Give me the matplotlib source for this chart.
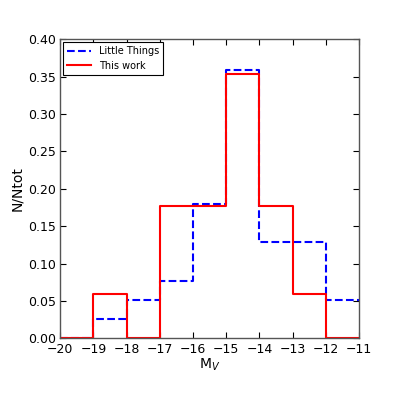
import numpy as np
import matplotlib
matplotlib.use('Agg')
import matplotlib.pyplot as plt

# bin edges in M_V and normalised counts
edges = [-20, -19, -18, -17, -16, -15, -14, -13, -12, -11]
little_things = [0.0, 0.0256, 0.0513, 0.0769, 0.1795, 0.3590, 0.1282, 0.1282, 0.0513]
this_work = [0.0, 0.0588, 0.0, 0.1765, 0.1765, 0.3529, 0.1765, 0.0588, 0.0]
xticks = [-20, -19, -18, -17, -16, -15, -14, -13, -12, -11]
yticks = [0.00, 0.05, 0.10, 0.15, 0.20, 0.25, 0.30, 0.35, 0.40]

plt.rcParams['font.family'] = 'DejaVu Sans'
plt.rcParams['mathtext.fontset'] = 'dejavusans'

fig = plt.figure(figsize=(3.99, 3.99), dpi=100)
ax = fig.add_axes([0.151, 0.152, 0.749, 0.750])

# step outlines, last value repeated so the final bin is drawn
ax.step(edges, little_things + [little_things[-1]], where='post', color='b',
        linestyle='--', linewidth=1.5, label='Little Things')
ax.step(edges, this_work + [this_work[-1]], where='post', color='r',
        linestyle='-', linewidth=1.5, label='This work')

ax.set_xlim(-20, -11)
ax.set_ylim(0, 0.40)
ax.set_xticks(xticks)
ax.set_yticks(yticks)
ax.set_xticklabels(['\u2212%d' % abs(t) for t in xticks])
ax.set_yticklabels(['%.2f' % t for t in yticks])
ax.tick_params(direction='in', top=True, right=True, labelsize=9, length=4,
               pad=3)
for sp in ax.spines.values():
    sp.set_color('#555555')
    sp.set_linewidth(1.0)
    sp.set_zorder(3)

ax.set_xlabel('M$_V$', fontsize=10, labelpad=1)
ax.set_ylabel('N/Ntot', fontsize=10, labelpad=3)

leg = ax.legend(loc='upper left', fontsize=7, fancybox=False,
                handlelength=2.5, borderaxespad=0.3, framealpha=1)
leg.get_frame().set_edgecolor('black')
leg.get_frame().set_linewidth(0.8)

fig.savefig('out.png', dpi=100)
